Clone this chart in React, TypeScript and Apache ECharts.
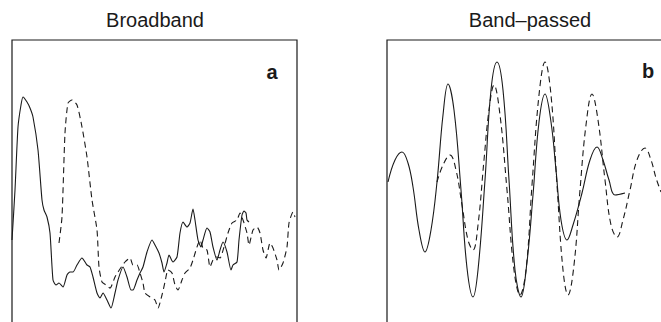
import React, { useEffect, useRef } from "react";
import * as echarts from "echarts";

// Panel titles and labels
const titles = ["Broadband", "Band–passed"];
const panelLabels = ["a", "b"];

// Panel a (broadband) — [time sample, amplitude]
const broadSolid: number[][] = [
  [0, 90], [3, 140], [6, 203], [9, 225], [11, 233], [15, 228], [18, 222], [21, 213], [26, 180], [30, 130],
  [32, 120], [35, 113], [38, 97], [41, 50], [44, 45], [47, 47], [51, 43], [55, 55], [58, 58], [61, 58],
  [65, 65], [70, 72], [73, 68], [75, 65], [78, 63], [81, 53], [85, 37], [88, 32], [91, 37], [95, 30],
  [99, 22], [103, 37], [106, 50], [111, 63], [115, 53], [119, 40], [121, 40], [125, 50], [128, 57], [131, 63],
  [135, 78], [140, 90], [143, 85], [147, 77], [150, 67], [152, 58], [155, 67], [157, 75], [161, 68], [165, 73],
  [168, 97], [171, 108], [175, 103], [178, 107], [181, 121], [183, 110], [186, 90], [189, 83], [191, 90], [195, 102],
  [198, 98], [201, 83], [205, 70], [208, 80], [211, 88], [215, 78], [219, 60], [221, 65], [225, 68], [227, 90],
  [230, 115], [232, 119], [234, 117], [235, 110], [237, 108],
];
const broadDashed: number[][] = [
  [47, 87], [50, 113], [53, 197], [56, 227], [60, 230], [65, 225], [70, 203], [75, 173], [80, 130], [85, 100],
  [87, 63], [90, 48], [94, 45], [98, 42], [103, 53], [106, 58], [113, 68], [118, 72], [121, 65], [125, 65],
  [128, 57], [131, 47], [133, 37], [138, 33], [143, 30], [146, 22], [150, 35], [153, 48], [156, 60], [160, 57],
  [163, 45], [166, 40], [170, 50], [173, 57], [178, 62], [181, 70], [185, 83], [188, 90], [191, 82], [195, 80],
  [198, 63], [201, 70], [205, 73], [208, 72], [212, 83], [216, 97], [220, 107], [225, 110], [228, 117], [231, 110],
  [235, 97], [237, 85], [241, 100], [245, 103], [248, 97], [251, 80], [254, 72], [258, 87], [261, 82], [265, 70],
  [267, 60], [271, 67], [275, 83], [277, 107], [281, 118], [283, 113],
];

// Panel b (band-passed) — [time sample, amplitude]
const bandSolid: number[][] = [
  [1, 148], [8, 170], [15, 178], [21, 167], [26, 143], [32, 100], [38, 78], [44, 100], [50, 148], [56, 215],
  [61, 246], [67, 220], [74, 140], [80, 62], [86, 33], [91, 60], [98, 150], [104, 240], [110, 268], [116, 240],
  [122, 150], [128, 60], [134, 33], [140, 68], [146, 135], [152, 208], [158, 236], [164, 208], [169, 160], [174, 110],
  [180, 90], [186, 105], [195, 137], [203, 170], [210, 183], [216, 170], [222, 150], [228, 135], [238, 137],
];
const bandDashed: number[][] = [
  [50, 148], [56, 165], [63, 175], [69, 160], [75, 125], [81, 90], [86, 80], [91, 105], [97, 170], [102, 220],
  [107, 245], [113, 215], [120, 140], [127, 60], [133, 35], [139, 60], [145, 145], [152, 235], [158, 268], [164, 235],
  [170, 145], [176, 60], [181, 35], [187, 65], [193, 140], [199, 205], [205, 236], [211, 210], [218, 150], [224, 105],
  [230, 93], [236, 110], [243, 140], [250, 170], [258, 182], [264, 170], [269, 152], [274, 138],
];

const FONT = "'Liberation Sans', Arial, Helvetica, sans-serif";
const INK = "#1a1a1a";
const W = 690;
const H = 345;

export default function App() {
  const ref = useRef<HTMLDivElement>(null);
  useEffect(() => {
    if (!ref.current) return;
    const chart = echarts.init(ref.current, undefined, { renderer: "svg" });
    const axisCommon = {
      axisLine: { show: false },
      axisTick: { show: false },
      axisLabel: { show: false },
      splitLine: { show: false },
    };
    const lineSeries = (data: number[][], idx: number, dashed: boolean, smooth: number) => ({
      type: "line",
      xAxisIndex: idx,
      yAxisIndex: idx,
      data,
      showSymbol: false,
      smooth,
      lineStyle: { color: INK, width: 1.1, type: dashed ? [6, 4] : "solid" },
    });
    chart.setOption({
      animation: false,
      backgroundColor: "#ffffff",
      grid: [
        { left: 12, top: 40, width: 285, height: 290, show: true, borderColor: INK, borderWidth: 1.2, backgroundColor: "transparent", outerBoundsMode: "none" },
        { left: 387, top: 40, width: 287, height: 290, show: true, borderColor: INK, borderWidth: 1.2, backgroundColor: "transparent", outerBoundsMode: "none" },
      ],
      xAxis: [
        { type: "value", gridIndex: 0, min: 0, max: 285, ...axisCommon },
        { type: "value", gridIndex: 1, min: 0, max: 287, ...axisCommon },
      ],
      yAxis: [
        { type: "value", gridIndex: 0, min: 0, max: 290, ...axisCommon },
        { type: "value", gridIndex: 1, min: 0, max: 290, ...axisCommon },
      ],
      series: [
        lineSeries(broadSolid, 0, false, 0.2),
        lineSeries(broadDashed, 0, true, 0.2),
        lineSeries(bandSolid, 1, false, 0.4),
        lineSeries(bandDashed, 1, true, 0.4),
      ],
      graphic: [
        { type: "text", x: 155, y: 20, style: { text: titles[0], fill: INK, font: `20px ${FONT}`, textAlign: "center", textVerticalAlign: "middle" } },
        { type: "text", x: 530, y: 20, style: { text: titles[1], fill: INK, font: `20px ${FONT}`, textAlign: "center", textVerticalAlign: "middle" } },
        { type: "text", x: 272, y: 72, style: { text: panelLabels[0], fill: INK, font: `bold 20px ${FONT}`, textAlign: "center", textVerticalAlign: "middle" } },
        { type: "text", x: 648, y: 71, style: { text: panelLabels[1], fill: INK, font: `bold 20px ${FONT}`, textAlign: "center", textVerticalAlign: "middle" } },
      ],
    });
    return () => chart.dispose();
  }, []);
  return (
    <div
      ref={ref}
      style={{ position: "fixed", left: 0, top: 0, width: W, height: H, background: "#fff" }}
    />
  );
}
